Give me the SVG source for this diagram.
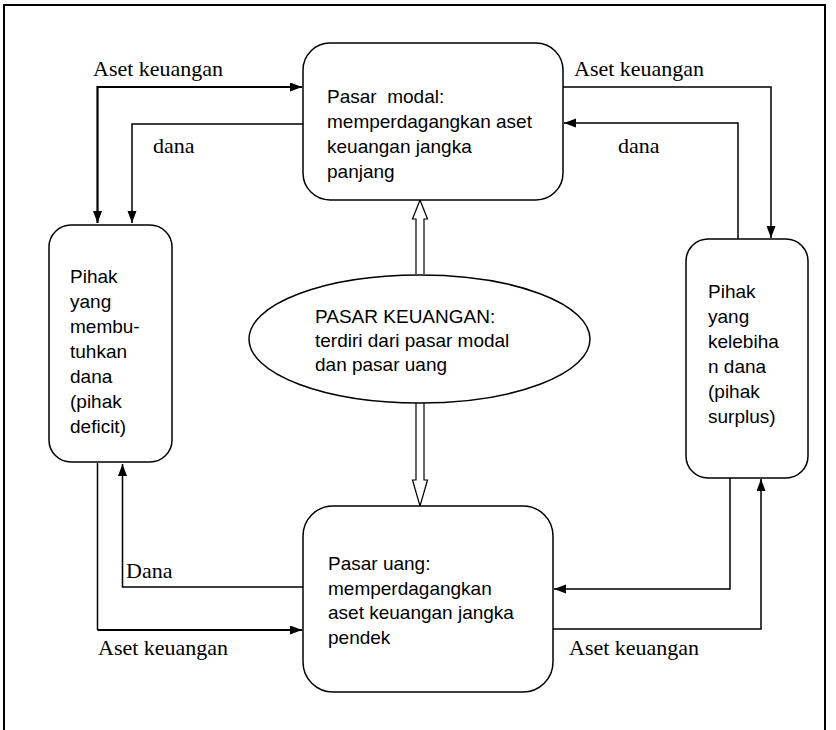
<svg xmlns="http://www.w3.org/2000/svg" width="836" height="730" viewBox="0 0 836 730">
<style>
.box{fill:#fff;stroke:#000;stroke-width:1.5}
.t{font-family:"Liberation Sans",Arial,sans-serif;font-size:19px;fill:#000}
.lbl{font-family:"Liberation Serif","Times New Roman",serif;font-size:22px;fill:#000}
.c{fill:none;stroke:#000;stroke-width:1.5}
.ct{fill:none;stroke:#000;stroke-width:2.2}
.hollow{fill:#fff;stroke:#000;stroke-width:1.2}
</style>
<defs>
<marker id="ah" markerUnits="userSpaceOnUse" markerWidth="13" markerHeight="10" refX="12" refY="4.5" orient="auto-start-reverse">
<path d="M0,0 L12,4.5 L0,9 z" fill="#000"/>
</marker>
</defs>
<rect x="0" y="0" width="836" height="730" fill="#fff"/>
<rect x="4" y="5" width="821" height="735" fill="none" stroke="#000" stroke-width="2"/>

<g id="connectors">
  <polyline class="ct" points="97.5,223 97.5,87 302,87" marker-start="url(#ah)" marker-end="url(#ah)"/>
  <polyline class="c" points="303,124 132,124 132,223" marker-end="url(#ah)"/>
  <polyline class="c" points="563,87 771,87 771,238" marker-end="url(#ah)"/>
  <polyline class="c" points="738,239 738,123 564,123" marker-end="url(#ah)"/>
  <polyline class="c" points="97.5,463 97.5,630"/>
  <polyline class="ct" points="97.5,630 302,630" marker-end="url(#ah)"/>
  <polyline class="c" points="303,587 122.5,587 122.5,464" marker-end="url(#ah)"/>
  <polyline class="c" points="730,478 730,589 554,589" marker-end="url(#ah)"/>
  <polyline class="c" points="553,629 761,629 761,479" marker-end="url(#ah)"/>
  <path class="hollow" d="M416,274 L416,219 L412.5,219 L420,200 L427.5,219 L424,219 L424,274"/>
  <path class="hollow" d="M416,403 L416,480 L412.5,480 L420,506 L427.5,480 L424,480 L424,403"/>
</g>

<g id="labels">
  <text class="lbl" x="93" y="76">Aset keuangan</text>
  <text class="lbl" x="153" y="153">dana</text>
  <text class="lbl" x="574" y="76">Aset keuangan</text>
  <text class="lbl" x="618" y="153">dana</text>
  <text class="lbl" x="126" y="578">Dana</text>
  <text class="lbl" x="98" y="655">Aset keuangan</text>
  <text class="lbl" x="569" y="655">Aset keuangan</text>
</g>

<g id="pasar-modal">
  <rect class="box" x="303" y="43" width="260" height="157" rx="27"/>
  <text class="t" x="327" y="103" xml:space="preserve">Pasar  modal:</text>
  <text class="t" x="327" y="128">memperdagangkan aset</text>
  <text class="t" x="327" y="153">keuangan jangka</text>
  <text class="t" x="327" y="178">panjang</text>
</g>

<g id="pihak-deficit">
  <rect class="box" x="49" y="225" width="123" height="237" rx="22"/>
  <text class="t" x="70" y="283">Pihak</text>
  <text class="t" x="70" y="308">yang</text>
  <text class="t" x="70" y="333">membu-</text>
  <text class="t" x="70" y="358">tuhkan</text>
  <text class="t" x="70" y="383">dana</text>
  <text class="t" x="70" y="408">(pihak</text>
  <text class="t" x="70" y="433">deficit)</text>
</g>

<g id="pihak-surplus">
  <rect class="box" x="686" y="239" width="122" height="239" rx="22"/>
  <text class="t" x="708" y="298">Pihak</text>
  <text class="t" x="708" y="323">yang</text>
  <text class="t" x="708" y="348">kelebiha</text>
  <text class="t" x="708" y="373">n dana</text>
  <text class="t" x="708" y="398">(pihak</text>
  <text class="t" x="708" y="423">surplus)</text>
</g>

<g id="pasar-keuangan">
  <ellipse class="box" cx="419.5" cy="339" rx="170.5" ry="64"/>
  <text class="t" x="315" y="323">PASAR KEUANGAN:</text>
  <text class="t" x="315" y="347">terdiri dari pasar modal</text>
  <text class="t" x="315" y="371">dan pasar uang</text>
</g>

<g id="pasar-uang">
  <rect class="box" x="303" y="506" width="250" height="186" rx="30"/>
  <text class="t" x="328" y="570">Pasar uang:</text>
  <text class="t" x="328" y="595">memperdagangkan</text>
  <text class="t" x="328" y="619">aset keuangan jangka</text>
  <text class="t" x="328" y="644">pendek</text>
</g>
</svg>
